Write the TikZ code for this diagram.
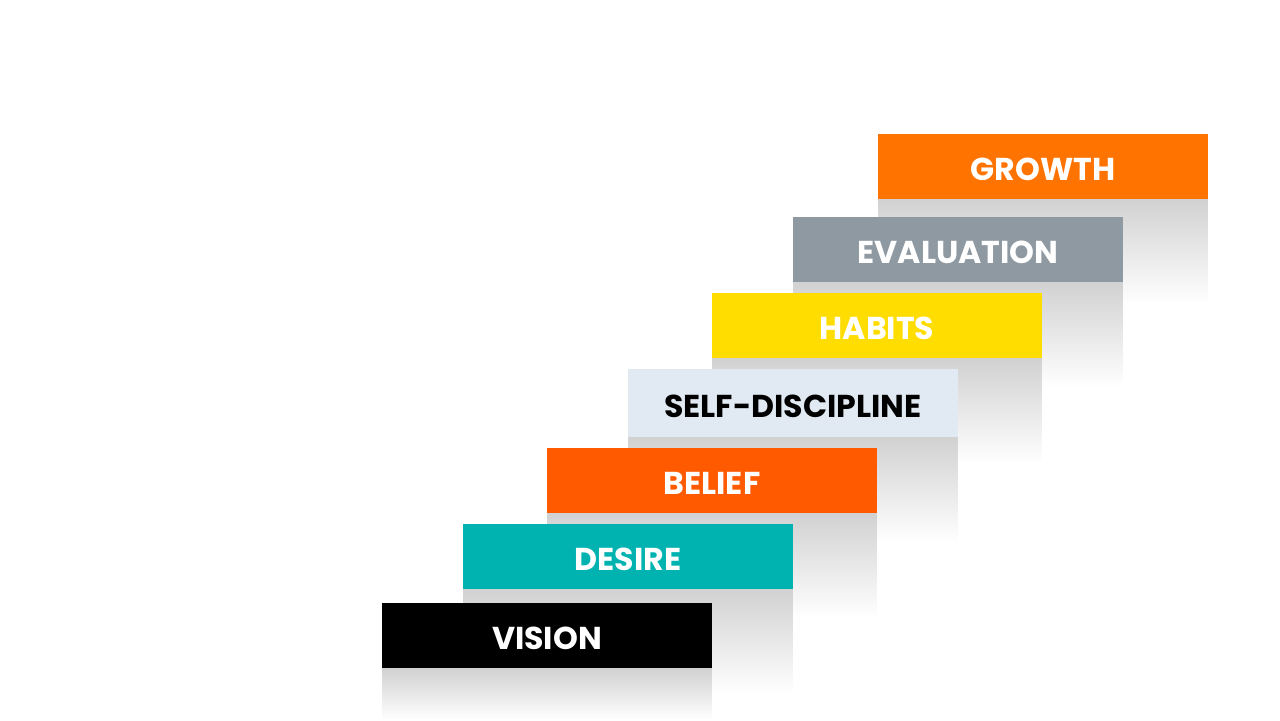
\documentclass[tikz,border=0pt]{standalone}
\usepackage{fontspec}
\setmainfont{Poppins}[BoldFont={Poppins Bold}]
\usetikzlibrary{positioning,calc}
\pgfdeclarelayer{background}
\pgfsetlayers{background,main}

\definecolor{growthorange}{HTML}{FF7300}
\definecolor{evalgray}{HTML}{8F99A1}
\definecolor{habitsyellow}{HTML}{FFDD00}
\definecolor{disciplineblue}{HTML}{E1EAF2}
\definecolor{beliefred}{HTML}{FF5A00}
\definecolor{desireteal}{HTML}{00B3B1}

\begin{document}
\begin{tikzpicture}[
    x=0.02cm, y=-0.02cm,
    stepbox/.style={minimum width=6.6cm, minimum height=1.3cm, inner sep=0pt, outer sep=0pt,
        text=white, text height=0.56cm, text depth=0pt, font=\bfseries\fontsize{18}{20}\selectfont},
    stepshadow/.style={top color=black!18, bottom color=white}
]
\useasboundingbox (0,0) rectangle (1280,720);

% Stufen, von unten nach oben
\node[stepbox, fill=black]                   (vision)     at (547,635.5)  {VISION};
\node[stepbox, fill=desireteal]              (desire)     at (628,556.5)  {DESIRE};
\node[stepbox, fill=beliefred]               (belief)     at (712,480.5)  {BELIEF};
\node[stepbox, fill=disciplineblue, text=black,
      minimum height=1.36cm]                 (discipline) at (793,403)    {SELF-DISCIPLINE};
\node[stepbox, fill=habitsyellow]            (habits)     at (877,325.5)  {HABITS};
\node[stepbox, fill=evalgray]                (evaluation) at (958,249.5)  {EVALUATION};
\node[stepbox, fill=growthorange]            (growth)     at (1043,166.5) {GROWTH};

% Schatten unter jeder Stufe
\begin{pgfonlayer}{background}
\fill[white] (0,0) rectangle (1280,720);
\shade[stepshadow] (growth.south west)     rectangle ($(growth.south east)+(0,105)$);
\shade[stepshadow] (evaluation.south west) rectangle ($(evaluation.south east)+(0,105)$);
\shade[stepshadow] (habits.south west)     rectangle ($(habits.south east)+(0,105)$);
\shade[stepshadow] (discipline.south west) rectangle ($(discipline.south east)+(0,105)$);
\shade[stepshadow] (belief.south west)     rectangle ($(belief.south east)+(0,105)$);
\shade[stepshadow] (desire.south west)     rectangle ($(desire.south east)+(0,105)$);
\shade[stepshadow] (vision.south west)     rectangle ($(vision.south east)+(0,52)$);
\end{pgfonlayer}

\end{tikzpicture}
\end{document}
